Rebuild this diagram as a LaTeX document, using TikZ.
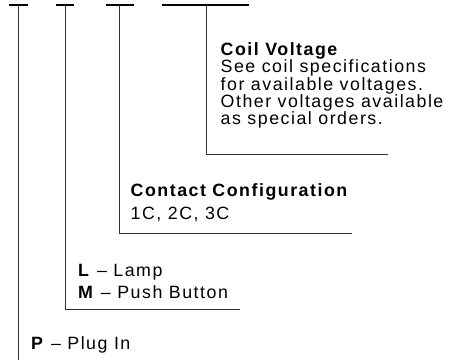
\documentclass[tikz,border=0pt]{standalone}
\usepackage{fontspec}
\setmainfont[LetterSpace=8.5]{Liberation Sans}
\begin{document}
\begin{tikzpicture}[x=1pt,y=-1pt,
  bar/.style={line width=2.2pt,black},
  lead/.style={line width=1pt,black!80},
  txt/.style={anchor=base west,inner sep=0pt,font=\fontsize{17.8}{19}\selectfont}]
\useasboundingbox (0,0) rectangle (461,360);
% top bars
\coordinate (b1l) at (9,5.3);   \coordinate (b1r) at (28,5.3);
\coordinate (b2l) at (56,5.3);  \coordinate (b2r) at (74,5.3);
\coordinate (b3l) at (106,5.3); \coordinate (b3r) at (134,5.3);
\coordinate (b4l) at (162,5.3); \coordinate (b4r) at (248.5,5.3);
\draw[bar] (b1l) -- (b1r);
\draw[bar] (b2l) -- (b2r);
\draw[bar] (b3l) -- (b3r);
\draw[bar] (b4l) -- (b4r);
% leader lines
\coordinate (v1t) at (18,5.3);   \coordinate (v1b) at (18,360);
\coordinate (v2t) at (65.3,5.3); \coordinate (v2b) at (65.3,309.5); \coordinate (v2e) at (240,309.5);
\coordinate (v3t) at (119,5.3);  \coordinate (v3b) at (119,233.3);  \coordinate (v3e) at (352,233.3);
\coordinate (v4t) at (206,5.3);  \coordinate (v4b) at (206,154);    \coordinate (v4e) at (388,154);
\draw[lead] (v1t) -- (v1b);
\draw[lead] (v2t) -- (v2b) -- (v2e);
\draw[lead] (v3t) -- (v3b) -- (v3e);
\draw[lead] (v4t) -- (v4b) -- (v4e);
% coil voltage
\node[txt] (c1) at (220.5,55.5) {\bfseries Coil Voltage};
\node[txt] (c2) at (220.5,72.8) {See coil specifications};
\node[txt] (c3) at (220.5,90.1) {for available voltages.};
\node[txt] (c4) at (220.5,107.4) {Other voltages available};
\node[txt] (c5) at (220.5,124.7) {as special orders.};
% contact configuration
\node[txt] (k1) at (130.5,196) {\bfseries Contact Configuration};
\node[txt] (k2) at (130.5,219.5) {1C, 2C, 3C};
% lamp / push button
\node[txt] (l1) at (78,276.7) {\textbf{L} -- Lamp};
\node[txt] (l2) at (78,298.2) {\textbf{M} -- Push Button};
% plug in
\node[txt] (p1) at (31,349.5) {\textbf{P} -- Plug In};
\end{tikzpicture}
\end{document}
